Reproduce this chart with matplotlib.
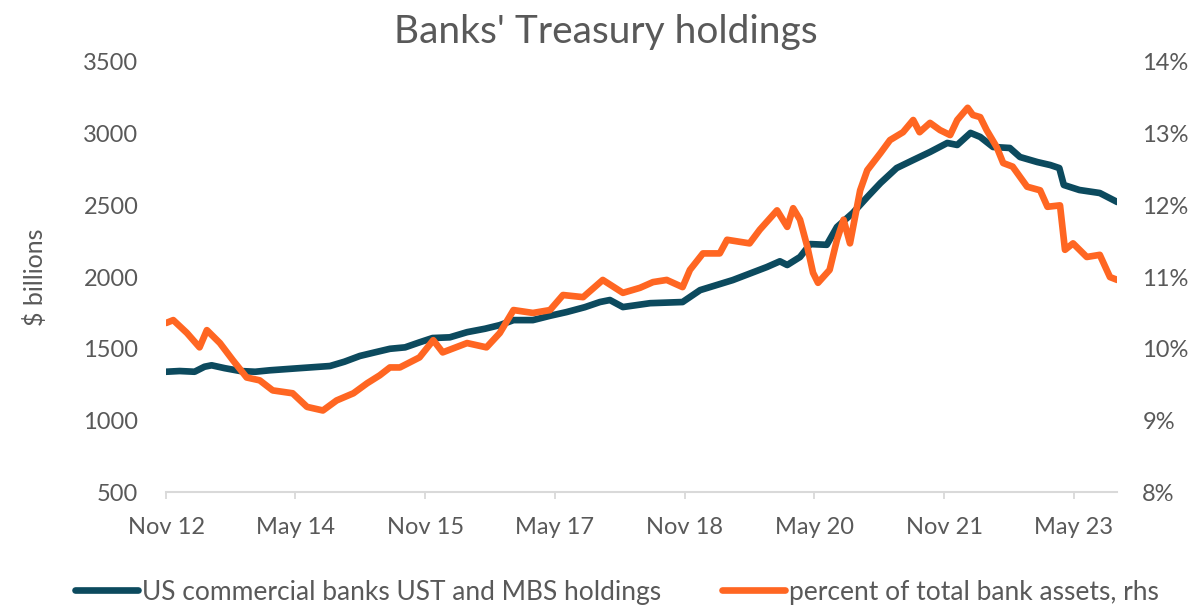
import matplotlib
matplotlib.use("Agg")
import matplotlib.pyplot as plt
import pandas as pd

# US commercial banks UST and MBS holdings, $ billions
hold_dates = ["2012-11-01", "2012-12-28", "2013-03-01", "2013-04-12", "2013-05-12",
              "2013-07-06", "2013-09-10", "2013-11-12", "2014-01-12", "2014-05-18",
              "2014-09-24", "2014-11-24", "2015-01-28", "2015-04-01", "2015-06-04",
              "2015-08-07", "2015-10-07", "2015-12-01", "2016-02-12", "2016-04-25",
              "2016-07-10", "2016-09-10", "2016-11-07", "2017-01-28", "2017-04-10",
              "2017-06-19", "2017-09-04", "2017-11-07", "2017-12-19", "2018-02-12",
              "2018-06-07", "2018-10-22", "2019-01-04", "2019-05-22", "2019-10-13",
              "2019-12-07", "2020-01-07", "2020-03-01", "2020-04-13", "2020-06-22",
              "2020-08-04", "2020-10-10", "2020-12-10", "2021-02-04", "2021-04-13",
              "2021-06-22", "2021-09-01", "2021-11-13", "2021-12-25", "2022-02-19",
              "2022-04-01", "2022-05-25", "2022-08-04", "2022-09-16", "2022-11-28",
              "2023-01-22", "2023-03-01", "2023-03-20", "2023-05-25", "2023-08-19",
              "2023-11-01"]
holdings = [1340, 1345, 1340, 1375, 1385,
            1365, 1345, 1340, 1350, 1365,
            1380, 1410, 1450, 1475, 1500,
            1510, 1545, 1575, 1580, 1616,
            1640, 1665, 1700, 1700, 1730,
            1756, 1790, 1826, 1840, 1791,
            1818, 1826, 1909, 1979, 2070,
            2110, 2084, 2140, 2230, 2225,
            2349, 2447, 2558, 2656, 2760,
            2816, 2872, 2935, 2921, 3005,
            2977, 2907, 2900, 2837, 2802,
            2781, 2760, 2642, 2607, 2586,
            2523]

# percent of total bank assets (rhs)
pct_dates = ["2012-11-01", "2012-12-01", "2013-01-28", "2013-03-22", "2013-04-22",
             "2013-06-16", "2013-08-10", "2013-10-07", "2013-12-01", "2014-01-25",
             "2014-04-19", "2014-06-19", "2014-08-25", "2014-10-22", "2015-01-01",
             "2015-02-28", "2015-04-22", "2015-06-04", "2015-07-16", "2015-10-07",
             "2015-12-04", "2016-01-13", "2016-04-25", "2016-07-16", "2016-09-10",
             "2016-11-07", "2017-01-28", "2017-04-10", "2017-06-04", "2017-08-28",
             "2017-11-19", "2018-02-12", "2018-04-25", "2018-06-19", "2018-08-16",
             "2018-10-22", "2018-11-22", "2019-01-16", "2019-03-28", "2019-04-28",
             "2019-08-01", "2019-09-13", "2019-11-25", "2020-01-07", "2020-02-01",
             "2020-03-01", "2020-04-01", "2020-04-25", "2020-05-16", "2020-07-04",
             "2020-08-04", "2020-09-01", "2020-09-28", "2020-11-10", "2020-12-10",
             "2021-02-04", "2021-03-16", "2021-05-10", "2021-06-22", "2021-07-19",
             "2021-09-01", "2021-10-13", "2021-11-25", "2021-12-25", "2022-02-07",
             "2022-03-01", "2022-04-01", "2022-04-28", "2022-06-10", "2022-07-07",
             "2022-08-16", "2022-10-16", "2022-12-10", "2023-01-10", "2023-03-04",
             "2023-03-25", "2023-04-28", "2023-06-25", "2023-08-19", "2023-10-01",
             "2023-11-01"]
pct_assets = [10.36, 10.40, 10.22, 10.02, 10.26,
              10.08, 9.84, 9.60, 9.56, 9.42,
              9.38, 9.19, 9.14, 9.28, 9.38,
              9.52, 9.63, 9.74, 9.74, 9.88,
              10.12, 9.95, 10.08, 10.02, 10.22,
              10.54, 10.50, 10.54, 10.75, 10.72,
              10.96, 10.78, 10.85, 10.93, 10.96,
              10.86, 11.10, 11.33, 11.33, 11.52,
              11.47, 11.66, 11.93, 11.70, 11.96,
              11.80, 11.42, 11.06, 10.92, 11.10,
              11.52, 11.80, 11.47, 12.21, 12.49,
              12.73, 12.91, 13.02, 13.19, 13.02,
              13.15, 13.05, 12.98, 13.19, 13.36,
              13.26, 13.23, 13.05, 12.81, 12.59,
              12.54, 12.26, 12.21, 11.98, 12.00,
              11.38, 11.47, 11.28, 11.31, 11.00,
              10.96]

tick_dates = ["2012-11-01", "2014-05-01", "2015-11-01", "2017-05-01",
              "2018-11-01", "2020-05-01", "2021-11-01", "2023-05-01"]
tick_labels = ["Nov 12", "May 14", "Nov 15", "May 17", "Nov 18", "May 20", "Nov 21", "May 23"]

BLUE = "#0c4a5e"
ORANGE = "#ff6622"
GREY = "#595959"

plt.rcParams['font.family'] = ['Lato', 'DejaVu Sans']

fig = plt.figure(figsize=(12.04, 6.13), dpi=100)
ax = fig.add_axes([0.138, 0.197, 0.790, 0.702])
ax2 = ax.twinx()

l1, = ax.plot(pd.to_datetime(hold_dates), holdings, color=BLUE, lw=4.8,
              solid_capstyle='round', label="US commercial banks UST and MBS holdings", zorder=3)
l2, = ax2.plot(pd.to_datetime(pct_dates), pct_assets, color=ORANGE, lw=4.8,
               solid_capstyle='round', label="percent of total bank assets, rhs", zorder=3)

ax.set_xlim(pd.Timestamp("2012-11-01"), pd.Timestamp("2023-11-01"))
ax.set_ylim(500, 3500)
ax.set_yticks(range(500, 3501, 500))
ax2.set_ylim(8, 14)
ax2.set_yticks(range(8, 15))
ax2.set_yticklabels([f"{v}%" for v in range(8, 15)])

ax.set_xticks(pd.to_datetime(tick_dates))
ax.set_xticklabels(tick_labels)

for a in (ax, ax2):
    for s in ("top", "left", "right"):
        a.spines[s].set_visible(False)
    a.spines["bottom"].set_color("#d9d9d9")
    a.spines["bottom"].set_linewidth(1.5)
ax2.spines["bottom"].set_visible(False)

ax.tick_params(axis='x', colors="#d9d9d9", length=5, width=1.3, pad=13,
               labelcolor=GREY, labelsize=17)
ax.tick_params(axis='y', length=0, pad=20, labelcolor=GREY, labelsize=17)
ax2.tick_params(axis='y', length=0, pad=18, labelcolor=GREY, labelsize=17)

ax.set_ylabel("$ billions", color=GREY, fontsize=18, labelpad=26)
fig.text(0.503, 0.948, "Banks' Treasury holdings", ha='center', va='center',
         color=GREY, fontsize=28)

fig.legend(handles=[l1, l2], loc='center', bbox_to_anchor=(0.5125, 0.034), ncol=2,
           frameon=False, fontsize=19, labelcolor=GREY, handlelength=2.4,
           handletextpad=0.15, columnspacing=2.3)

fig.savefig("out.png", dpi=100)
